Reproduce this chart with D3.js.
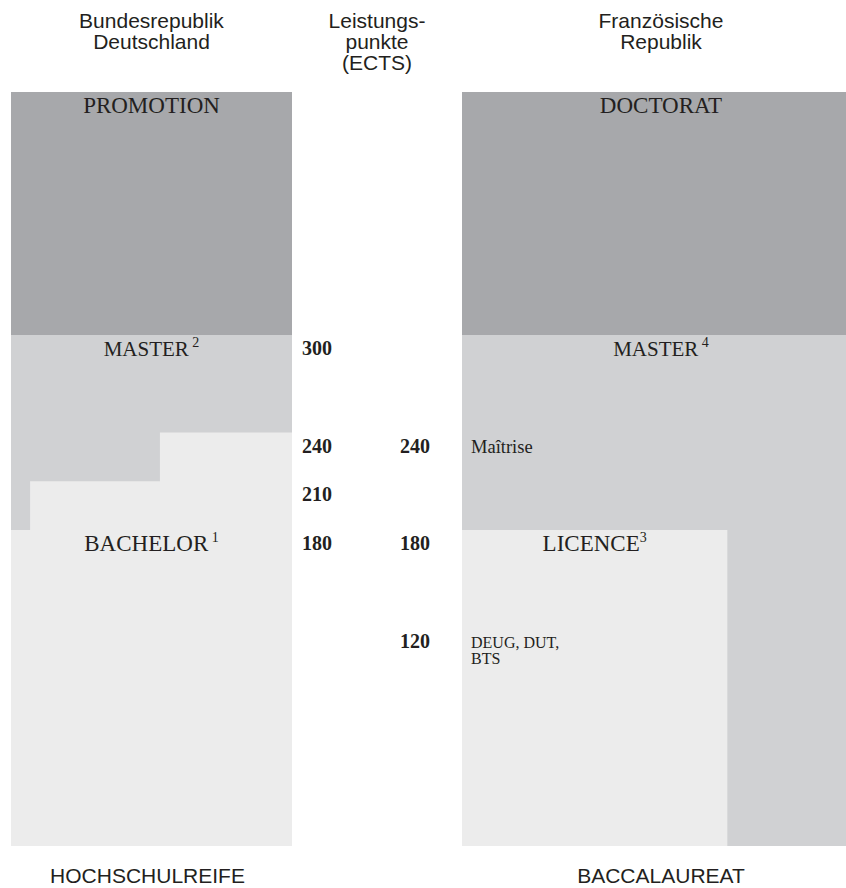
<!DOCTYPE html>
<html>
<head>
<meta charset="utf-8">
<script src="https://cdn.jsdelivr.net/npm/d3@7"></script>
<style>
	body { margin: 0; background: #fff; overflow: hidden; }
	.sans { font-family: "Liberation Sans", Arial, sans-serif; fill: #231f20; }
	.serif { font-family: "Liberation Serif", "Times New Roman", serif; fill: #231f20; }
</style>
</head>
<body>
<div id="chart-area"></div>
<script>
/*
*    ects.js  -  Bachelor / Master, Deutschland vs. Frankreich
*/

// --- data ---
var headerDE = ["Bundesrepublik", "Deutschland"];
var headerECTS = ["Leistungs-", "punkte", "(ECTS)"];
var headerFR = ["Französische", "Republik"];
var entryLabels = ["HOCHSCHULREIFE", "BACCALAUREAT"];

// blocks, bottom -> top in ECTS (null = open end)
var deLevels = ["PROMOTION", "MASTER", "BACHELOR"];
var deNotes = ["", "2", "1"];
var deLower = [300, 180, null];
var deUpper = [null, 300, 180];
var deBachelorEcts = [180, 210, 240];

var frLevels = ["DOCTORAT", "MASTER", "LICENCE"];
var frNotes = ["", "4", "3"];
var frLower = [300, null, null];
var frUpper = [null, 300, 180];
var frSubLabels = [["Maîtrise"], ["DEUG, DUT,", "BTS"]];
var frSubEcts = [240, 120];

var deTicks = [300, 240, 210, 180];
var frTicks = [240, 180, 120];

// --- layout ---
var w = 846;
var h = 888;
var yMin = 92;
var yMax = 846;
var shades = ["#a7a8ab", "#d0d1d3", "#ececec"];

var svg = d3.select("#chart-area").append("svg")
	.attr("width", w)
	.attr("height", h)
	.style("display", "block");

var y = d3.scaleLinear()
	.domain([180, 300])
	.range([530, 335]);

var xDE = d3.scaleLinear().domain([0, 1]).range([11, 292]);
var xFR = d3.scaleLinear().domain([0, 1]).range([462, 860]);

// inset of each bachelor step (as share of the column)
var stepInset = d3.scaleOrdinal()
	.domain(deBachelorEcts)
	.range([0, 0.068, 0.53]);

// share of the French column taken by the licence block
var frWidth = [1, 1, 2 / 3];

function yTop(v) { return v == null ? yMin : y(v); }
function yBot(v) { return v == null ? yMax : y(v); }

// --- German column ---
var de = svg.append("g");

de.selectAll("rect.level")
	.data(deLevels)
	.enter().append("rect")
	.attr("class", "level")
	.attr("x", xDE(0))
	.attr("width", xDE(1) - xDE(0))
	.attr("y", (d, i) => { return yTop(deUpper[i]); })
	.attr("height", (d, i) => { return yBot(deLower[i]) - yTop(deUpper[i]); })
	.attr("fill", (d, i) => { return shades[i]; });

de.selectAll("rect.step")
	.data(deBachelorEcts)
	.enter().append("rect")
	.attr("class", "step")
	.attr("x", (d) => { return xDE(stepInset(d)); })
	.attr("width", (d) => { return xDE(1) - xDE(stepInset(d)); })
	.attr("y", (d) => { return y(d); })
	.attr("height", (d) => { return yMax - y(d); })
	.attr("fill", shades[2]);

// --- French column ---
var fr = svg.append("g");

fr.selectAll("rect.level")
	.data(frLevels)
	.enter().append("rect")
	.attr("class", "level")
	.attr("x", xFR(0))
	.attr("width", (d, i) => { return xFR(frWidth[i]) - xFR(0); })
	.attr("y", (d, i) => { return yTop(frUpper[i]); })
	.attr("height", (d, i) => { return yBot(frLower[i]) - yTop(frUpper[i]); })
	.attr("fill", (d, i) => { return shades[i]; });

// --- level labels ---
function levelLabels(g, names, notes, upper, cx, sizes) {
	var t = g.selectAll("text.level")
		.data(names)
		.enter().append("text")
		.attr("class", "level serif")
		.attr("x", (d, i) => { return cx(i); })
		.attr("y", (d, i) => { return yTop(upper[i]) + 21; })
		.attr("text-anchor", "middle")
		.attr("font-size", (d) => { return sizes(d) + "px"; });
	t.append("tspan").text((d) => { return d; });
	t.append("tspan")
		.attr("font-size", "14px")
		.attr("dy", -9)
		.text((d, i) => { return notes[i] == "" ? "" : (d == "LICENCE" ? "" : "\u00a0") + notes[i]; });
}

var labelSize = (d) => { return d == "MASTER" ? 21 : 23; };

levelLabels(de, deLevels, deNotes, deUpper, () => { return (xDE(0) + xDE(1)) / 2; }, labelSize);
levelLabels(fr, frLevels, frNotes, frUpper, (i) => { return (xFR(0) + xFR(frWidth[i])) / 2; }, labelSize);

fr.selectAll("text.sub")
	.data(frSubLabels)
	.enter().append("text")
	.attr("class", "sub serif")
	.attr("x", xFR(0) + 9)
	.attr("y", (d, i) => { return y(frSubEcts[i]) + 20; })
	.attr("font-size", (d, i) => { return i == 0 ? "18.5px" : "16px"; })
	.selectAll("tspan")
	.data((d) => { return d; })
	.enter().append("tspan")
	.attr("x", xFR(0) + 9)
	.attr("dy", (d, j) => { return j == 0 ? 0 : 16; })
	.text((d) => { return d; });

// --- ECTS values ---
svg.selectAll("text.tickDE")
	.data(deTicks)
	.enter().append("text")
	.attr("class", "tickDE serif")
	.attr("x", 302)
	.attr("y", (d) => { return y(d) + 20; })
	.attr("font-size", "20px")
	.attr("font-weight", "bold")
	.text((d) => { return d; });

svg.selectAll("text.tickFR")
	.data(frTicks)
	.enter().append("text")
	.attr("class", "tickFR serif")
	.attr("x", 400)
	.attr("y", (d) => { return y(d) + 20; })
	.attr("font-size", "20px")
	.attr("font-weight", "bold")
	.text((d) => { return d; });

// --- headers ---
function header(lines, cx) {
	svg.append("text")
		.attr("class", "sans")
		.attr("font-size", "21px")
		.attr("text-anchor", "middle")
		.selectAll("tspan")
		.data(lines)
		.enter().append("tspan")
		.attr("x", cx)
		.attr("y", (d, i) => { return 28 + i * 21; })
		.text((d) => { return d; });
}

header(headerDE, (xDE(0) + xDE(1)) / 2);
header(headerECTS, (xDE(1) + xFR(0)) / 2);
header(headerFR, (xFR(0) + xFR(1)) / 2);

svg.selectAll("text.entry")
	.data(entryLabels)
	.enter().append("text")
	.attr("class", "entry sans")
	.attr("x", (d, i) => { return i == 0 ? (xDE(0) + xDE(1)) / 2 - 4 : (xFR(0) + xFR(1)) / 2; })
	.attr("y", 883)
	.attr("font-size", "21px")
	.attr("text-anchor", "middle")
	.text((d) => { return d; });
</script>
</body>
</html>
